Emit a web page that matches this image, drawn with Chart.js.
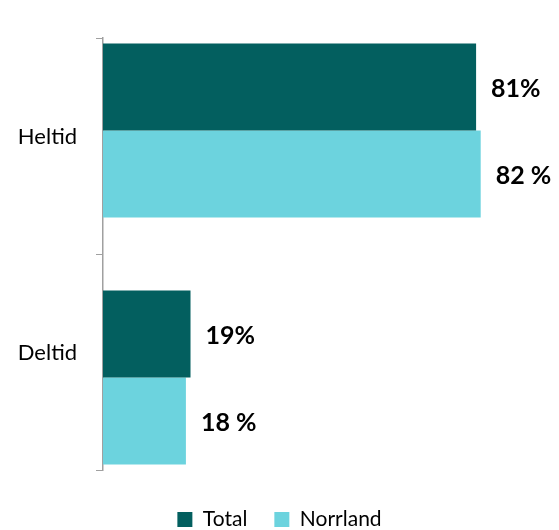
<!DOCTYPE html>
<html>
<head>
<meta charset="utf-8">
<script src="https://cdn.jsdelivr.net/npm/chart.js@4"></script>
<style>
  html, body { margin: 0; padding: 0; background: #fff; }
  #wrap { width: 559px; height: 530px; }
</style>
</head>
<body>
<div id="wrap"><canvas id="myChart"></canvas></div>
<script>
const categories = ['Heltid', 'Deltid'];
const totalValues = [81, 19];
const norrlandValues = [82, 18];
const totalLabels = ['81%', '19%'];
const norrlandLabels = ['82 %', '18 %'];

// category scale with a custom edge gap, so the groups sit further apart
class SpreadCategory extends Chart.CategoryScale {
  configure() {
    super.configure();
    const edge = this.options.edge;
    if (edge != null) {
      this._startValue = this.min - edge;
      this._valueRange = Math.max(this.max - this.min + 2 * edge, 1);
    }
  }
}
SpreadCategory.id = 'spreadCategory';
SpreadCategory.defaults = Chart.CategoryScale.defaults;
Chart.register(SpreadCategory);

// writes the value text just right of each bar
const barLabels = {
  id: 'barLabels',
  afterDatasetsDraw(chart) {
    const ctx = chart.ctx;
    const texts = [totalLabels, norrlandLabels];
    ctx.save();
    ctx.font = 'bold 25px Lato';
    ctx.fillStyle = '#000';
    ctx.textBaseline = 'middle';
    chart.data.datasets.forEach((ds, i) => {
      chart.getDatasetMeta(i).data.forEach((bar, j) => {
        ctx.fillText(texts[i][j], bar.x + 15, bar.y + 2);
      });
    });
    ctx.restore();
  }
};

function showChart() {
  const ctx = document.getElementById('myChart');

  new Chart(ctx, {
    type: 'bar',
    data: {
      labels: categories,
      datasets: [{
        label: 'Total',
        data: totalValues,
        yAxisID: 'yb',
        backgroundColor: '#035f5f'
      }, {
        label: 'Norrland',
        data: norrlandValues,
        yAxisID: 'yb',
        backgroundColor: '#6cd3de'
      }]
    },
    options: {
      indexAxis: 'y',
      responsive: true,
      maintainAspectRatio: false,
      animation: false,
      categoryPercentage: 0.704,
      barPercentage: 1,
      layout: { padding: { top: 38, right: 0, left: 0, bottom: -10 } },
      scales: {
        x: { display: false, min: 0, max: 99 },
        y: {
          type: 'category',
          afterFit(scale) { scale.width = 103; },
          grid: {
            drawOnChartArea: false,
            tickLength: 7,
            color: '#a0a0a0'
          },
          border: { color: '#a0a0a0', width: 1.5 },
          ticks: {
            padding: 19,
            labelOffset: -9,
            color: '#000',
            font: { family: 'Lato', size: 22 }
          }
        },
        yb: {
          type: 'spreadCategory',
          axis: 'y',
          display: false,
          offset: true,
          edge: 0.3745
        }
      },
      plugins: {
        tooltip: { enabled: false },
        legend: {
          position: 'bottom',
          title: { display: true, text: '', padding: 1, font: { size: 10, lineHeight: 1 } },
          labels: {
            boxWidth: 15,
            boxHeight: 15,
            padding: 27,
            color: '#000',
            font: { family: 'Lato', size: 21 }
          }
        }
      }
    },
    plugins: [barLabels]
  });
}

showChart();
</script>
</body>
</html>
